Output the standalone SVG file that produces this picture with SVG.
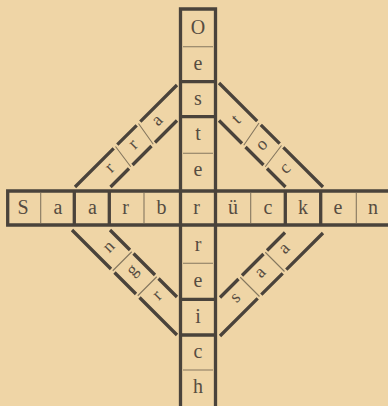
<svg xmlns="http://www.w3.org/2000/svg" width="388" height="406" viewBox="0 0 388 406">
<style>
.bg{fill:#efd5a6}
.thick{stroke:#4a433b;stroke-width:3.3;fill:none;stroke-linecap:butt}
.thin{stroke:#85775f;stroke-width:1.1;fill:none}
.l{font-family:"Liberation Serif","DejaVu Serif",serif;font-size:20px;fill:#564c41;text-anchor:middle}
.d{font-family:"Liberation Serif","DejaVu Serif",serif;font-size:18px;fill:#564c41;text-anchor:middle}
</style>
<rect class="bg" x="0" y="0" width="388" height="406"/>

<g id="strip-saarbruecken">
  <path class="thick" d="M392 191 H7.7 V225 H392"/>
  <path class="thick" d="M74.3 191 V225 M109.3 191 V225 M285.3 191 V225 M320.7 191 V225"/>
  <path class="thin" d="M40.7 193 V223 M144 193 V223 M250.7 193 V223 M356.3 193 V223"/>
  <text class="l" x="23" y="213.5">S</text>
  <text class="l" x="58" y="213.5">a</text>
  <text class="l" x="92.5" y="213.5">a</text>
  <text class="l" x="125.5" y="213.5">r</text>
  <text class="l" x="161.5" y="213.5">b</text>
  <text class="l" x="196.5" y="213.5">r</text>
  <text class="l" x="233" y="213.5">ü</text>
  <text class="l" x="268" y="213.5">c</text>
  <text class="l" x="303" y="213.5">k</text>
  <text class="l" x="338" y="213.5">e</text>
  <text class="l" x="373" y="213.5">n</text>
</g>

<g id="strip-oesterreich">
  <path class="thick" d="M180.5 410 V9 H215.5 V410"/>
  <path class="thick" d="M180.5 81.7 H215.5 M180.5 116.7 H215.5 M180.5 299.3 H215.5 M180.5 335 H215.5"/>
  <path class="thin" d="M183 46.7 H213 M183 153.3 H213 M183 263.3 H213 M183 370 H213"/>
  <text class="l" x="198" y="34">O</text>
  <text class="l" x="198" y="69.5">e</text>
  <text class="l" x="198" y="104.5">s</text>
  <text class="l" x="198" y="139.5">t</text>
  <text class="l" x="198" y="176">e</text>
  <text class="l" x="198" y="251">r</text>
  <text class="l" x="198" y="287">e</text>
  <text class="l" x="198" y="322.5">i</text>
  <text class="l" x="198" y="357.5">c</text>
  <text class="l" x="198" y="392.5">h</text>
</g>

<g id="strip-upper-left">
  <path class="thick" d="M75 187 L113.7 148.3 M117.3 144.7 L136.7 125.3 M140.3 121.7 L177 85"/>
  <path class="thick" d="M110.5 187 L129 168.5 M132.5 165 L151.5 146 M155 142.5 L177 120.5"/>
  <path class="thin" d="M115.5 146.5 L130.75 166.75 M138.5 123.5 L153.25 144.25"/>
  <text class="d" x="110.5" y="172.6" transform="rotate(-45 110.5 168.5)">r</text>
  <text class="d" x="134" y="149.1" transform="rotate(-45 134 145)">r</text>
  <text class="d" x="158" y="125.1" transform="rotate(-45 158 121)">a</text>
</g>

<g id="strip-upper-right">
  <path class="thick" d="M219 83 L257.2 121.2 M260.8 124.8 L279.7 143.7 M283.3 147.3 L323 187"/>
  <path class="thick" d="M219 120.5 L242 143.5 M245.5 147 L263.5 165 M267 168.5 L285.5 187"/>
  <path class="thin" d="M259 123 L243.75 145.25 M281.5 145.5 L265.25 166.75"/>
  <text class="d" x="237" y="124.1" transform="rotate(-45 237 120)">t</text>
  <text class="d" x="262.5" y="149.6" transform="rotate(-45 262.5 145.5)">o</text>
  <text class="d" x="286" y="173.1" transform="rotate(-45 286 169)">c</text>
</g>

<g id="strip-lower-left">
  <path class="thick" d="M72 230 L111 269 M114.5 272.5 L136 294 M139.5 297.5 L177 335"/>
  <path class="thick" d="M110 230 L130 250 M133.5 253.5 L155 275 M158.5 278.5 L177 297"/>
  <path class="thin" d="M112.75 270.75 L131.75 251.75 M137.75 295.75 L156.75 276.75"/>
  <text class="d" x="109.5" y="251.6" transform="rotate(-45 109.5 247.5)">n</text>
  <text class="d" x="133" y="275.1" transform="rotate(-45 133 271)">g</text>
  <text class="d" x="158" y="300.1" transform="rotate(-45 158 296)">r</text>
</g>

<g id="strip-lower-right">
  <path class="thick" d="M220 336 L257.7 298.3 M261.3 294.7 L282.7 273.3 M286.3 269.7 L323 233"/>
  <path class="thick" d="M220 297.5 L238.5 279 M242 275.5 L263.5 254 M267 250.5 L285 232.5"/>
  <path class="thin" d="M240.25 277.25 L259.5 296.5 M265.25 252.25 L284.5 271.5"/>
  <text class="d" x="236" y="302.1" transform="rotate(-45 236 298)">s</text>
  <text class="d" x="261" y="277.1" transform="rotate(-45 261 273)">a</text>
  <text class="d" x="285" y="253.1" transform="rotate(-45 285 249)">a</text>
</g>
</svg>
